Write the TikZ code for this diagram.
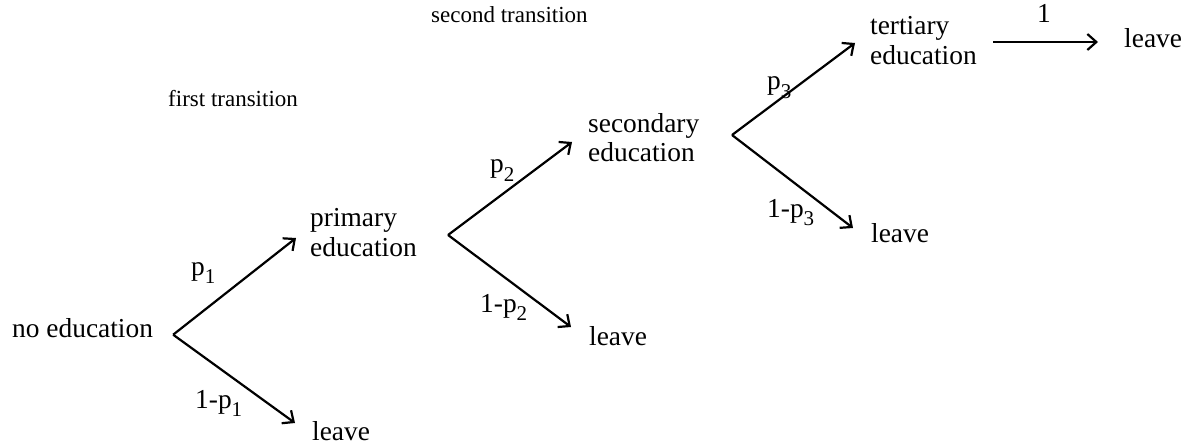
\documentclass[tikz,border=0pt]{standalone}
\usepackage{fontspec}
\setmainfont{Liberation Serif}
\usepackage{tikz}
\usetikzlibrary{arrows.meta,calc}
\newcommand{\lowidx}[1]{\raisebox{-0.3em}{\fontsize{21}{21}\selectfont #1}}

\begin{document}
\begin{tikzpicture}[x=1pt, y=1pt,
  lbl/.style={inner sep=0pt, align=left, anchor=base west,
              font=\fontsize{27.4}{30}\selectfont},
  small/.style={inner sep=0pt, anchor=base west, font=\fontsize{23}{26}\selectfont},
  arr/.style={-{Straight Barb[length=9pt,width=16pt]}, line width=2.2pt}]
\useasboundingbox (0,0) rectangle (1190,445);
% states
\node[lbl] (noedu) at (12,108) {no education};
\node[lbl] (prim) at (310,189) {primary\\education};
\node[lbl] (leavea) at (312,5) {leave};
\node[lbl] (sec) at (588,283) {secondary\\education};
\node[lbl] (leaveb) at (589,100) {leave};
\node[lbl] (tert) at (870,380) {tertiary\\education};
\node[lbl] (leavec) at (871,203) {leave};
\node[lbl] (leaved) at (1124,397) {leave};
% branch points
\coordinate (sa) at ([xshift=20pt]noedu.mid east);
\coordinate (sb) at (448,210);
\coordinate (sc) at (732,310);
% transitions
\draw[arr] (sa) -- ([shift={(-14pt,18pt)}]prim.base west);
\draw[arr] (sa) -- ([shift={(-17pt,17pt)}]leavea.base west);
\draw[arr] (sb) -- ([shift={(-16pt,20pt)}]sec.base west);
\draw[arr] (sb) -- ([shift={(-18pt,18pt)}]leaveb.base west);
\draw[arr] (sc) -- ([shift={(-15pt,22pt)}]tert.base west);
\draw[arr] (sc) -- ([shift={(-18pt,14pt)}]leavec.base west);
\draw[arr] ([shift={(123pt,23pt)}]tert.base west) -- ([shift={(-26pt,6pt)}]leaved.base west);
% probabilities
\node[lbl] (pa) at (191,170) {p\lowidx{1}};
\node[lbl] (qa) at (195,37) {1-p\lowidx{1}};
\node[lbl] (pb) at (490,272) {p\lowidx{2}};
\node[lbl] (qb) at (480,133) {1-p\lowidx{2}};
\node[lbl] (pc) at (767,355) {p\lowidx{3}};
\node[lbl] (qc) at (767,228) {1-p\lowidx{3}};
\node[lbl] (one) at (1037,422) {1};
% headings
\node[small] (firsttr) at (168,338) {first transition};
\node[small] (secondtr) at (431,422) {second transition};
\end{tikzpicture}
\end{document}
